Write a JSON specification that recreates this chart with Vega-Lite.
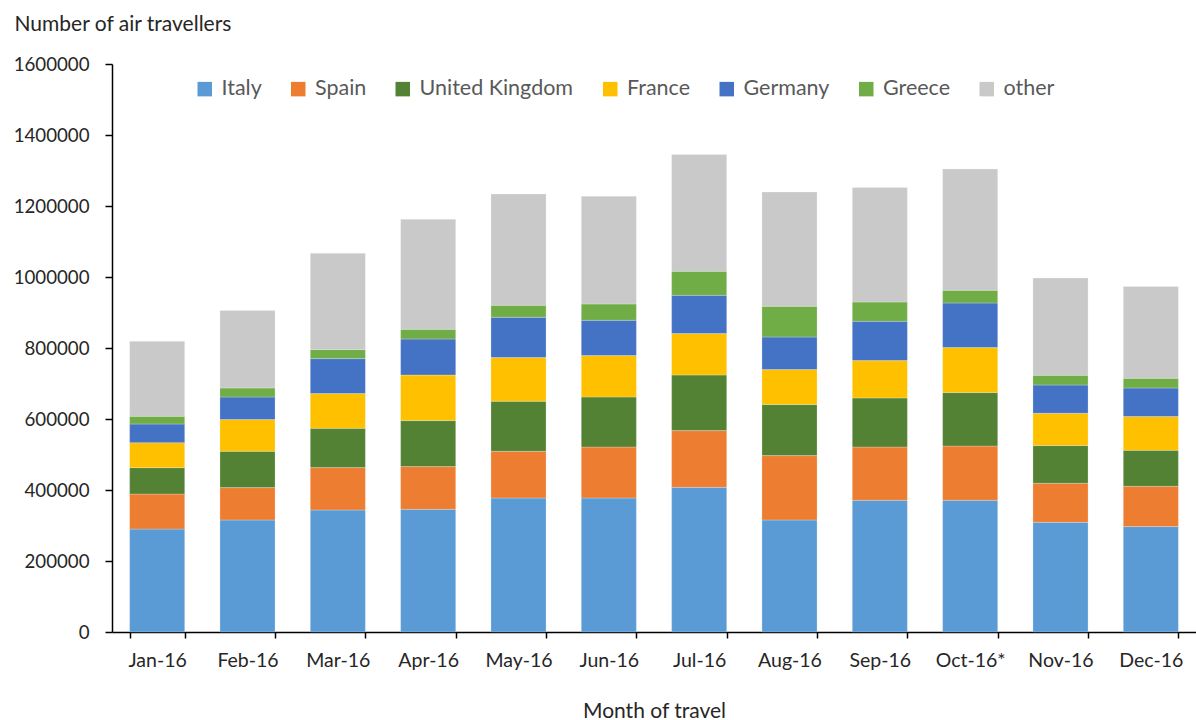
{
  "$schema": "https://vega.github.io/schema/vega-lite/v6.json",
  "width": 1084,
  "height": 568,
  "autosize": {"type": "none"},
  "padding": {"left": 112, "top": 64, "right": 0, "bottom": 88},
  "background": "#ffffff",
  "config": {
    "font": "Lato",
    "view": {"stroke": null},
    "axis": {"grid": false, "domainColor": "#000000", "domainWidth": 1.5, "tickColor": "#000000", "tickWidth": 1.5, "labelColor": "#262626", "titleColor": "#262626", "labelFont": "Lato", "titleFont": "Lato", "titleFontSize": 21, "titleFontWeight": "normal"}
  },
  "data": {
    "values": [
      {"month": "Jan-16", "country": "Italy", "travellers": 290000},
      {"month": "Jan-16", "country": "Spain", "travellers": 98600},
      {"month": "Jan-16", "country": "United Kingdom", "travellers": 74400},
      {"month": "Jan-16", "country": "France", "travellers": 70400},
      {"month": "Jan-16", "country": "Germany", "travellers": 52400},
      {"month": "Jan-16", "country": "Greece", "travellers": 21700},
      {"month": "Jan-16", "country": "other", "travellers": 211300},
      {"month": "Feb-16", "country": "Italy", "travellers": 315500},
      {"month": "Feb-16", "country": "Spain", "travellers": 91200},
      {"month": "Feb-16", "country": "United Kingdom", "travellers": 102300},
      {"month": "Feb-16", "country": "France", "travellers": 89300},
      {"month": "Feb-16", "country": "Germany", "travellers": 63700},
      {"month": "Feb-16", "country": "Greece", "travellers": 25300},
      {"month": "Feb-16", "country": "other", "travellers": 218000},
      {"month": "Mar-16", "country": "Italy", "travellers": 343700},
      {"month": "Mar-16", "country": "Spain", "travellers": 119400},
      {"month": "Mar-16", "country": "United Kingdom", "travellers": 110700},
      {"month": "Mar-16", "country": "France", "travellers": 97700},
      {"month": "Mar-16", "country": "Germany", "travellers": 98600},
      {"month": "Mar-16", "country": "Greece", "travellers": 25400},
      {"month": "Mar-16", "country": "other", "travellers": 271200},
      {"month": "Apr-16", "country": "Italy", "travellers": 345600},
      {"month": "Apr-16", "country": "Spain", "travellers": 120300},
      {"month": "Apr-16", "country": "United Kingdom", "travellers": 129600},
      {"month": "Apr-16", "country": "France", "travellers": 128400},
      {"month": "Apr-16", "country": "Germany", "travellers": 101400},
      {"month": "Apr-16", "country": "Greece", "travellers": 27400},
      {"month": "Apr-16", "country": "other", "travellers": 309800},
      {"month": "May-16", "country": "Italy", "travellers": 377500},
      {"month": "May-16", "country": "Spain", "travellers": 131500},
      {"month": "May-16", "country": "United Kingdom", "travellers": 140900},
      {"month": "May-16", "country": "France", "travellers": 123100},
      {"month": "May-16", "country": "Germany", "travellers": 113500},
      {"month": "May-16", "country": "Greece", "travellers": 33800},
      {"month": "May-16", "country": "other", "travellers": 313500},
      {"month": "Jun-16", "country": "Italy", "travellers": 377500},
      {"month": "Jun-16", "country": "Spain", "travellers": 143600},
      {"month": "Jun-16", "country": "United Kingdom", "travellers": 140900},
      {"month": "Jun-16", "country": "France", "travellers": 116600},
      {"month": "Jun-16", "country": "Germany", "travellers": 99400},
      {"month": "Jun-16", "country": "Greece", "travellers": 46000},
      {"month": "Jun-16", "country": "other", "travellers": 303300},
      {"month": "Jul-16", "country": "Italy", "travellers": 407600},
      {"month": "Jul-16", "country": "Spain", "travellers": 159700},
      {"month": "Jul-16", "country": "United Kingdom", "travellers": 156600},
      {"month": "Jul-16", "country": "France", "travellers": 116700},
      {"month": "Jul-16", "country": "Germany", "travellers": 107800},
      {"month": "Jul-16", "country": "Greece", "travellers": 67600},
      {"month": "Jul-16", "country": "other", "travellers": 328800},
      {"month": "Aug-16", "country": "Italy", "travellers": 315500},
      {"month": "Aug-16", "country": "Spain", "travellers": 181400},
      {"month": "Aug-16", "country": "United Kingdom", "travellers": 143700},
      {"month": "Aug-16", "country": "France", "travellers": 98500},
      {"month": "Aug-16", "country": "Germany", "travellers": 91900},
      {"month": "Aug-16", "country": "Greece", "travellers": 86500},
      {"month": "Aug-16", "country": "other", "travellers": 321900},
      {"month": "Sep-16", "country": "Italy", "travellers": 371000},
      {"month": "Sep-16", "country": "Spain", "travellers": 150100},
      {"month": "Sep-16", "country": "United Kingdom", "travellers": 138100},
      {"month": "Sep-16", "country": "France", "travellers": 105300},
      {"month": "Sep-16", "country": "Germany", "travellers": 110700},
      {"month": "Sep-16", "country": "Greece", "travellers": 54400},
      {"month": "Sep-16", "country": "other", "travellers": 322200},
      {"month": "Oct-16*", "country": "Italy", "travellers": 371000},
      {"month": "Oct-16*", "country": "Spain", "travellers": 152900},
      {"month": "Oct-16*", "country": "United Kingdom", "travellers": 150500},
      {"month": "Oct-16*", "country": "France", "travellers": 126700},
      {"month": "Oct-16*", "country": "Germany", "travellers": 125700},
      {"month": "Oct-16*", "country": "Greece", "travellers": 35700},
      {"month": "Oct-16*", "country": "other", "travellers": 341700},
      {"month": "Nov-16", "country": "Italy", "travellers": 309000},
      {"month": "Nov-16", "country": "Spain", "travellers": 109900},
      {"month": "Nov-16", "country": "United Kingdom", "travellers": 106200},
      {"month": "Nov-16", "country": "France", "travellers": 91000},
      {"month": "Nov-16", "country": "Germany", "travellers": 79700},
      {"month": "Nov-16", "country": "Greece", "travellers": 27300},
      {"month": "Nov-16", "country": "other", "travellers": 274100},
      {"month": "Dec-16", "country": "Italy", "travellers": 296900},
      {"month": "Dec-16", "country": "Spain", "travellers": 113500},
      {"month": "Dec-16", "country": "United Kingdom", "travellers": 101400},
      {"month": "Dec-16", "country": "France", "travellers": 95000},
      {"month": "Dec-16", "country": "Germany", "travellers": 80500},
      {"month": "Dec-16", "country": "Greece", "travellers": 27400},
      {"month": "Dec-16", "country": "other", "travellers": 258300}
    ]
  },
  "transform": [
    {"calculate": "indexof(['Italy', 'Spain', 'United Kingdom', 'France', 'Germany', 'Greece', 'other'], datum.country)", "as": "stack_order"}
  ],
  "mark": {"type": "bar", "stroke": "#ffffff", "strokeWidth": 0.4, "strokeOpacity": 0.6},
  "encoding": {
    "x": {
      "field": "month",
      "type": "nominal",
      "sort": null,
      "scale": {"paddingInner": 0.39, "paddingOuter": 0.195},
      "axis": {
        "title": "Month of travel",
        "labelAngle": 0,
        "labelFontSize": 19.5,
        "tickBand": "extent",
        "tickSize": 6,
        "labelPadding": 13,
        "titleY": 85,
        "titleBaseline": "alphabetic"
      }
    },
    "y": {
      "field": "travellers",
      "type": "quantitative",
      "aggregate": "sum",
      "stack": "zero",
      "scale": {"domain": [0, 1600000], "nice": false},
      "axis": {
        "title": "Number of air travellers",
        "values": [0, 200000, 400000, 600000, 800000, 1000000, 1200000, 1400000, 1600000],
        "format": "d",
        "labelFontSize": 18.7,
        "tickSize": 7,
        "labelPadding": 16,
        "titleAngle": 0,
        "titleAlign": "left",
        "titleBaseline": "alphabetic",
        "titleX": -98,
        "titleY": -34
      }
    },
    "color": {
      "field": "country",
      "type": "nominal",
      "sort": ["Italy", "Spain", "United Kingdom", "France", "Germany", "Greece", "other"],
      "scale": {
        "domain": ["Italy", "Spain", "United Kingdom", "France", "Germany", "Greece", "other"],
        "range": ["#5B9BD5", "#ED7D31", "#548235", "#FFC000", "#4472C4", "#70AD47", "#C9C9C9"]
      },
      "legend": {
        "title": null,
        "orient": "none",
        "direction": "horizontal",
        "legendX": 82,
        "legendY": 14,
        "symbolType": "square",
        "symbolSize": 210,
        "symbolStrokeWidth": 0,
        "labelFontSize": 21.5,
        "labelColor": "#595959",
        "labelOffset": 6,
        "columnPadding": 25.5,
        "labelLimit": 300
      }
    },
    "order": {"field": "stack_order", "type": "quantitative"}
  }
}
